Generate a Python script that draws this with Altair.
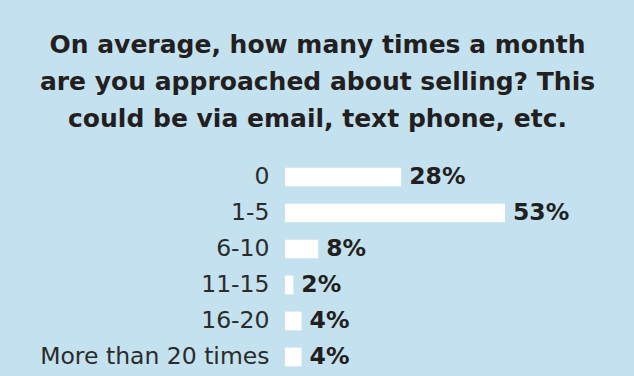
import altair as alt
import pandas as pd

categories = ["0", "1-5", "6-10", "11-15", "16-20", "More than 20 times"]
values = [28, 53, 8, 2, 4, 4]
labels = ["28%", "53%", "8%", "2%", "4%", "4%"]

df = pd.DataFrame({"cat": categories, "val": values, "lab": labels})

title_lines = [
    "On average, how many times a month",
    "are you approached about selling? This",
    "could be via email, text phone, etc.",
]

BG = "#c4e1ef"
FONT = "DejaVu Sans"

y = alt.Y("cat:N", sort=categories, title=None,
          scale=alt.Scale(paddingInner=0.48, paddingOuter=0.24),
          axis=alt.Axis(domain=False, ticks=False, labelFontSize=23.5,
                        labelFont=FONT, labelColor="#2b2b2b",
                        labelPadding=16, labelLimit=300))
x = alt.X("val:Q", title=None, scale=alt.Scale(domain=[0, 60]), axis=None)

bars = alt.Chart(df).mark_bar(color="white").encode(x=x, y=y)
text = alt.Chart(df).mark_text(align="left", dx=8, fontSize=23.5, font=FONT,
                               fontWeight="bold", color="#231f20").encode(
    x=x, y=y, text="lab:N")

chart = (bars + text).properties(
    width=249, height=216,
    background=BG,
    padding={"left": 285, "top": 159, "right": 100, "bottom": 1},
    autosize=alt.AutoSizeParams(type="none"),
    title=alt.TitleParams(text=title_lines, anchor="middle", frame="group",
                          dx=-92, offset=27, fontSize=25, font=FONT,
                          fontWeight="bold", color="#231f20", lineHeight=37),
).configure_view(stroke=None)

chart.save("out.html", embed_options={"renderer": "svg", "actions": False})
